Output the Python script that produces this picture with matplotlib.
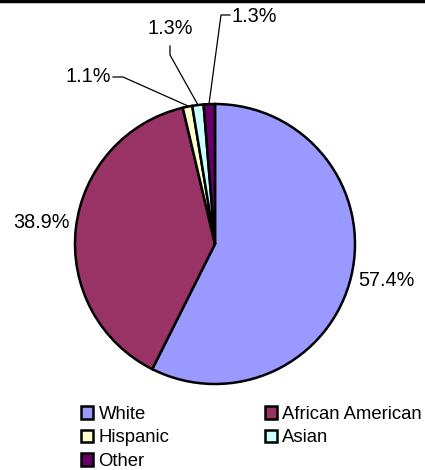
import matplotlib
matplotlib.use('Agg')
import matplotlib.pyplot as plt
from matplotlib.patches import Patch

plt.rcParams['font.family'] = ['Liberation Sans', 'DejaVu Sans']

# Data
groups = ['White', 'African American', 'Hispanic', 'Asian', 'Other']
shares = [57.4, 38.9, 1.1, 1.3, 1.3]
colors = ['#9999FF', '#993366', '#FFFFCC', '#CCFFFF', '#660066']

W, H = 425, 470
fig = plt.figure(figsize=(W / 100, H / 100), dpi=100)
ax = fig.add_axes([0, 0, 1, 1])

cx, cy, r = 215, H - 244, 140
wedges, _ = ax.pie(shares, colors=colors, startangle=90, counterclock=False,
                   center=(cx, cy), radius=r, frame=True,
                   wedgeprops=dict(edgecolor='black', linewidth=1.8))
ax.set_xlim(0, W)
ax.set_ylim(0, H)
ax.set_aspect('equal')
ax.axis('off')

labels = [f'{v:.1f}%' for v in shares]
fs = 14.3

# big slices: plain labels
ax.text(386, H - 281, labels[0], ha='center', va='center', fontsize=fs)
ax.text(41, H - 223, labels[1], ha='center', va='center', fontsize=fs)

# small slices: labels with leader lines (pixel coords, y down)
ax.text(111, H - 76, labels[2], ha='right', va='center', fontsize=fs)
ax.plot([113, 123, 188], [H - 77, H - 77, H - 106], color='black', lw=0.9)

ax.text(170, H - 29, labels[3], ha='center', va='center', fontsize=fs)
ax.plot([170, 170, 198], [H - 46, H - 55, H - 105], color='black', lw=0.9)

ax.text(232, H - 16, labels[4], ha='left', va='center', fontsize=fs)
ax.plot([230, 221, 209], [H - 15, H - 15, H - 104], color='black', lw=0.9)

# top border line
ax.plot([0, W], [H - 0.5, H - 0.5], color='black', lw=2.5)

# legend, row-major order
handles = [Patch(facecolor=c, edgecolor='black', linewidth=1.8) for c in colors]
order = [0, 2, 4, 1, 3]
fig.legend([handles[i] for i in order], [groups[i] for i in order],
           ncol=2, loc='upper left', bbox_to_anchor=(81 / W, 1 - 406 / H),
           frameon=False, fontsize=13.3, handlelength=0.65, handleheight=0.65,
           handletextpad=0.3, labelspacing=0.35, columnspacing=5.15,
           borderaxespad=0, borderpad=0)

fig.savefig('out.png', dpi=100)
